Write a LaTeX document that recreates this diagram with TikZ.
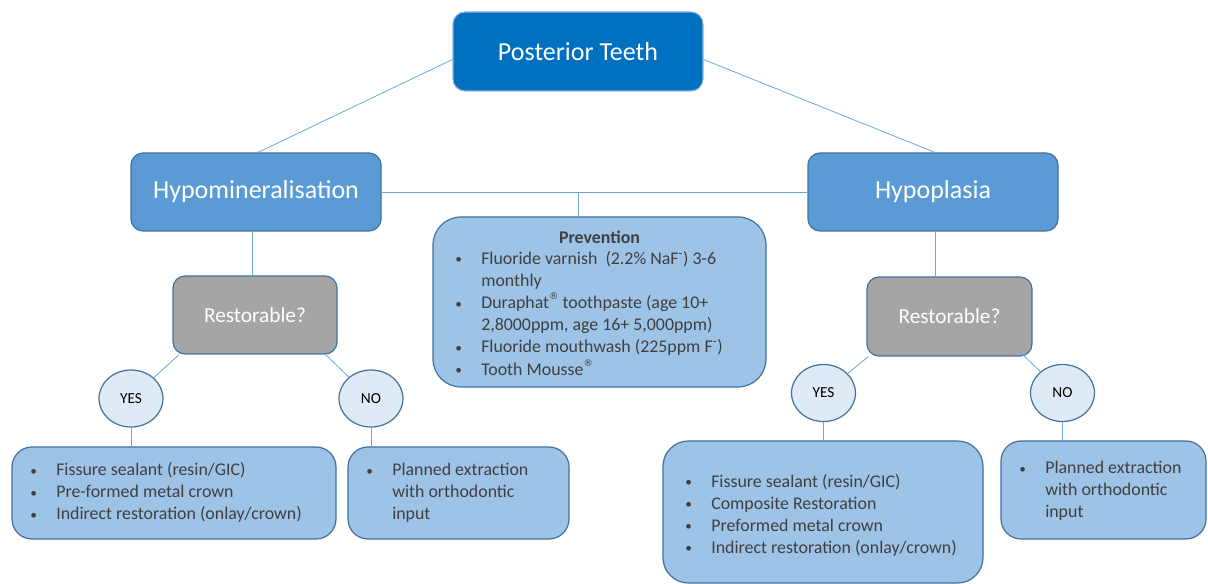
\documentclass[tikz,border=0pt]{standalone}
\usepackage{fontspec}
\setmainfont{Carlito}
\newfontfamily\symfont{DejaVu Sans}
\usetikzlibrary{shapes.geometric,calc}
\definecolor{topfill}{HTML}{0070C0}
\definecolor{topdraw}{HTML}{8FB4DC}
\definecolor{midfill}{HTML}{5B9BD5}
\definecolor{bord}{HTML}{41719C}
\definecolor{grayfill}{HTML}{A5A5A5}
\definecolor{lightfill}{HTML}{9DC3E6}
\definecolor{ellfill}{HTML}{DEEBF7}
\definecolor{conn}{HTML}{6FA6DC}
\definecolor{txt}{HTML}{404040}
\newcommand\bu{\makebox[19.5pt][l]{\raisebox{0.5pt}{\fontsize{10}{10}\selectfont\textbullet}}}
\newcommand\bi{\hspace*{19.5pt}}
\newcommand\reg{\raisebox{0.5em}{\fontsize{7}{7}\symfont ®}}
\tikzset{
  topbox/.style={draw=topdraw, line width=0.8pt, fill=topfill, rounded corners=9pt, inner sep=0pt, text=white, font=\fontsize{19.5}{23}\selectfont},
  midbox/.style={draw=bord, line width=0.9pt, fill=midfill, rounded corners=9pt, inner sep=0pt, text=white, font=\fontsize{19.5}{23}\selectfont},
  graybox/.style={draw=bord, line width=0.9pt, fill=grayfill, rounded corners=9pt, inner sep=0pt, text=white, font=\fontsize{16}{19}\selectfont},
  answer/.style={ellipse, draw=bord, line width=0.9pt, fill=ellfill, inner sep=0pt, minimum width=48pt, minimum height=42.75pt, font=\fontsize{11.5}{14}\selectfont, text=black},
  listbox/.style={draw=bord, line width=0.9pt, fill=lightfill, rounded corners=15pt, inner sep=0pt},
  listtext/.style={anchor=west, inner sep=0pt, text=txt, font=\fontsize{13.4}{16.5}\selectfont},
  conline/.style={draw=conn, line width=0.6pt}
}
\begin{document}
\begin{tikzpicture}[x=0.75pt,y=-0.75pt]
\useasboundingbox (0,0) rectangle (1208,584);
% main nodes
\node[topbox, minimum width=187.5pt, minimum height=59.25pt] (top) at (578,51.5) {\raisebox{-1.5pt}{Posterior Teeth}};
\node[midbox, minimum width=187.5pt, minimum height=58.5pt] (hypm) at (256,192) {\raisebox{-2.5pt}{Hypomineralisation}};
\node[midbox, minimum width=187.5pt, minimum height=58.5pt] (hypp) at (933,192) {\raisebox{-2.5pt}{Hypoplasia}};
\node[listbox, rounded corners=21pt, minimum width=249.75pt, minimum height=127.5pt] (prev) at (599.5,302) {};
\node[graybox, minimum width=123pt, minimum height=58.5pt] (restL) at (255,315) {\raisebox{-1.5pt}{Restorable?}};
\node[graybox, minimum width=123.75pt, minimum height=59.25pt] (restR) at (949.5,316.5) {\raisebox{-1.5pt}{Restorable?}};
\node[answer] (yesL) at (131,398.5) {YES};
\node[answer] (noL) at (371,398.5) {NO};
\node[answer] (yesR) at (823.5,393) {YES};
\node[answer] (noR) at (1062.5,393) {NO};
\node[listbox, minimum width=243pt, minimum height=69pt] (boxYL) at (174,493) {};
\node[listbox, minimum width=165.75pt, minimum height=69pt] (boxNL) at (458.5,493) {};
\node[listbox, rounded corners=19pt, minimum width=240pt, minimum height=106.5pt] (boxYR) at (823,512) {};
\node[listbox, minimum width=153.75pt, minimum height=73.5pt] (boxNR) at (1103.5,490) {};
% texts in light boxes
\node[inner sep=0pt, text=txt, font=\fontsize{13.4}{16.5}\selectfont\bfseries] (prevtitle) at (599.5,237) {Prevention};
\node[listtext] (prevlist) at (455,315.5) {\begin{tabular}{@{}l@{}}
\bu Fluoride varnish\ \ (2.2\% NaF\textsuperscript{-}) 3-6\\
\bi monthly\\
\bu Duraphat\reg\ toothpaste (age 10+\\
\bi 2,8000ppm, age 16+ 5,000ppm)\\
\bu Fluoride mouthwash (225ppm F\textsuperscript{-})\\
\bu Tooth Mousse\reg
\end{tabular}};
\node[listtext] (listYL) at (30,493.5) {\begin{tabular}{@{}l@{}}
\bu Fissure sealant (resin/GIC)\\
\bu Pre-formed metal crown\\
\bu Indirect restoration (onlay/crown)
\end{tabular}};
\node[listtext] (listNL) at (366,493.5) {\begin{tabular}{@{}l@{}}
\bu Planned extraction\\
\bi with orthodontic\\
\bi input
\end{tabular}};
\node[listtext] (listYR) at (685,516) {\begin{tabular}{@{}l@{}}
\bu Fissure sealant (resin/GIC)\\
\bu Composite Restoration\\
\bu Preformed metal crown\\
\bu Indirect restoration (onlay/crown)
\end{tabular}};
\node[listtext] (listNR) at (1019,491.5) {\begin{tabular}{@{}l@{}}
\bu Planned extraction\\
\bi with orthodontic\\
\bi input
\end{tabular}};
% connectors
\draw[conline] ([yshift=-6pt]top.west) -- ([xshift=1.5pt]hypm.north);
\draw[conline] ([yshift=-6pt]top.east) -- ([xshift=1.5pt]hypp.north);
\draw[conline] (hypm.east) -- (hypp.west);
\draw[conline] (prev.north -| top.south) -- (hypm.east -| top.south);
\draw[conline] (restL.north -| 252,0) -- (hypm.south -| 252,0);
\draw[conline] (restR.north -| 935,0) -- (hypp.south -| 935,0);
\draw[conline] ([xshift=5pt]restL.south west) -- (yesL);
\draw[conline] ([xshift=-9pt]restL.south east) -- (noL);
\draw[conline] ([xshift=1.5pt]restR.south west) -- (yesR);
\draw[conline] ([xshift=-11pt,yshift=5pt]restR.south east) -- (noR);
\draw[conline] (yesL.south) -- (boxYL.north -| yesL.south);
\draw[conline] (noL.south) -- (boxNL.north -| noL.south);
\draw[conline] (yesR.south) -- (boxYR.north -| yesR.south);
\draw[conline] (noR.south) -- (boxNR.north -| noR.south);
\end{tikzpicture}
\end{document}
